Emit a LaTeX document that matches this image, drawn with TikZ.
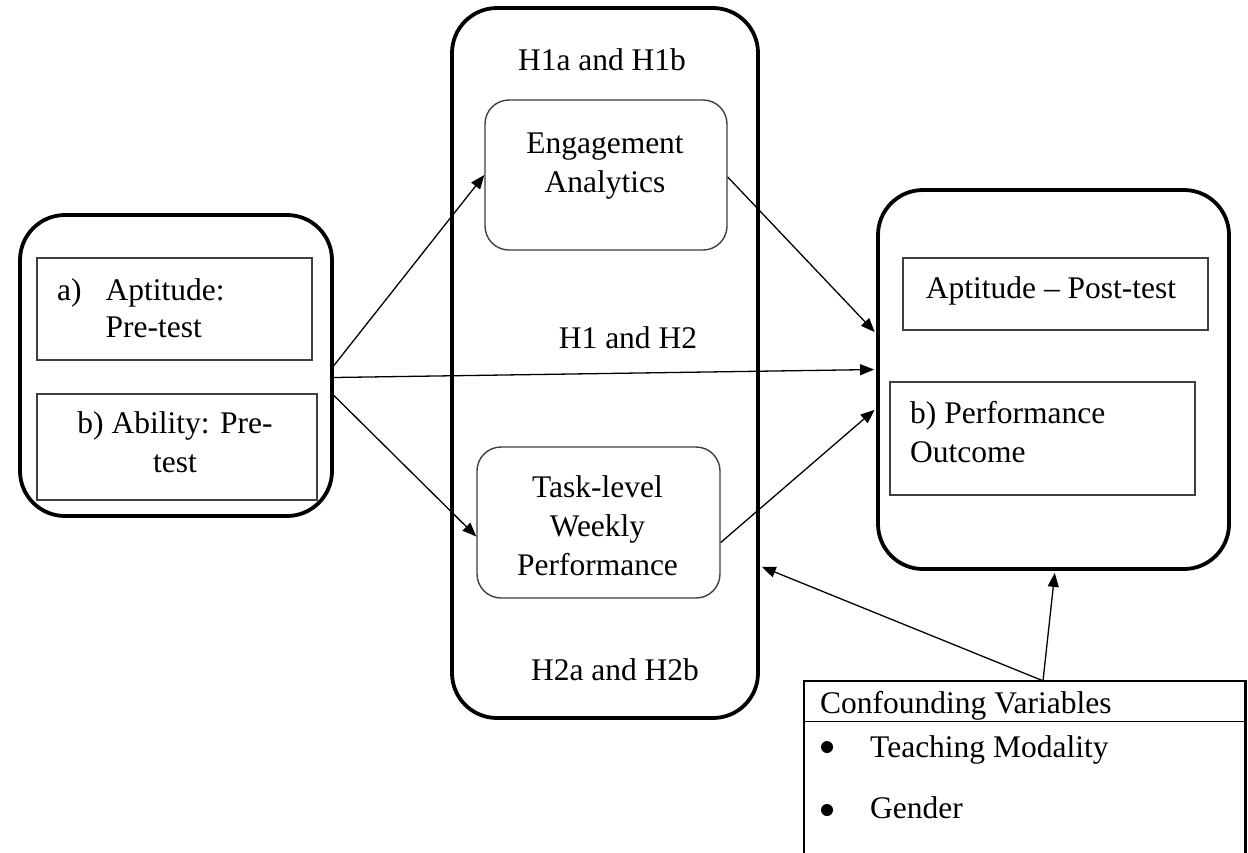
\documentclass[tikz,border=0pt]{standalone}
\usepackage{fontspec}
\setmainfont{Liberation Serif}
\usetikzlibrary{arrows.meta}
\newcommand\ml[2][c]{\begin{tabular}[t]{@{}#1@{}}#2\end{tabular}}
\begin{document}
\begin{tikzpicture}[x=1pt,y=-1pt,
  every node/.style={font=\fontsize{31.5}{39}\selectfont, inner sep=0pt},
  outerbox/.style={draw, line width=3.8pt, rounded corners=45pt},
  innerbox/.style={draw=black!75, line width=1.4pt},
  roundbox/.style={draw=black!75, line width=1.4pt, rounded corners=24pt},
  arr/.style={-{Triangle[length=14pt,width=11pt]}, line width=1.3pt},
  dotbullet/.style={circle, fill=black, minimum size=12pt},
  txt/.style={anchor=base},
  txtl/.style={anchor=base west}]
\useasboundingbox (0,0) rectangle (1248,852);
\fill[white] (0,0) rectangle (1248,852);
% left group
\node[outerbox, minimum width=312pt, minimum height=301pt] (L) at (176,365.5) {};
\node[innerbox, minimum width=275pt, minimum height=102pt] (A) at (174.5,309) {};
\node[innerbox, minimum width=280pt, minimum height=106pt] (B) at (177,447) {};
\node[txtl] (At) at (57,300) {\renewcommand\arraystretch{0.95}\begin{tabular}[t]{@{}l@{\hspace{24pt}}l@{}}a) & Aptitude:\\ & Pre-test\end{tabular}};
\node[txt] (Bt) at (175,433) {\ml{b) Ability: Pre-\\test}};
% middle group
\node[outerbox, minimum width=306pt, minimum height=710pt] (M) at (605,363) {};
\node[roundbox, minimum width=242pt, minimum height=150pt] (E) at (606,175) {};
\node[txt] (Et) at (605,153) {\ml{Engagement\\Analytics}};
\node[roundbox, minimum width=243pt, minimum height=151pt] (T) at (598.5,522.5) {};
\node[txt] (Tt) at (597.5,497) {\ml{Task-level\\Weekly\\Performance}};
\node[txt] (h1) at (602,70) {H1a and H1b};
\node[txt] (h2) at (615,680) {H2a and H2b};
\node[txt] (h12) at (628,348) {H1 and H2};
% right group
\node[outerbox, minimum width=351pt, minimum height=379pt] (R) at (1053.5,379.5) {};
\node[innerbox, minimum width=305pt, minimum height=72pt] (P) at (1055.5,294) {};
\node[txt] (Pt) at (1051,298) {Aptitude \textendash{} Post-test};
\node[innerbox, minimum width=305pt, minimum height=113pt] (O) at (1042.5,438.5) {};
\node[txtl] (Ot) at (910,423) {\ml[l]{b) Performance\\Outcome}};
% confounding
\node[minimum width=441pt, minimum height=40pt] (C) at (1024.5,701) {};
\draw[line width=2.6pt] ([yshift=-200pt]C.west) |- (C.north east) -- ([yshift=-200pt]C.east);
\draw[line width=1.3pt] (C.south west) -- (C.south east);
\node[txtl] (Ct) at (820,713) {Confounding Variables};
\node[dotbullet] (b1) at (827,747) {};
\node[txtl] (v1) at (870,757) {Teaching Modality};
\node[dotbullet] (b2) at (827,810) {};
\node[txtl] (v2) at (870,818) {Gender};
% arrows
\draw[arr] (L.east) -- (E.west);
\draw[arr, shorten >=2pt] ([yshift=-12pt]L.east) -- ([yshift=10pt]R.west);
\draw[arr] ([yshift=-30pt]L.east) -- ([yshift=-14pt]T.west);
\draw[arr, shorten >=2pt] ([yshift=-2pt]E.east) -- ([yshift=46pt]R.west);
\draw[arr, shorten >=2pt] ([yshift=-20pt]T.east) -- ([yshift=-29pt]R.west);
\coordinate (cj) at ([xshift=18.5pt]C.north);
\draw[arr, shorten >=2pt] (cj) -- ([yshift=-203pt]M.east);
\draw[arr, shorten >=2pt] (cj) -- ([xshift=1.5pt]R.south);
\end{tikzpicture}
\end{document}
